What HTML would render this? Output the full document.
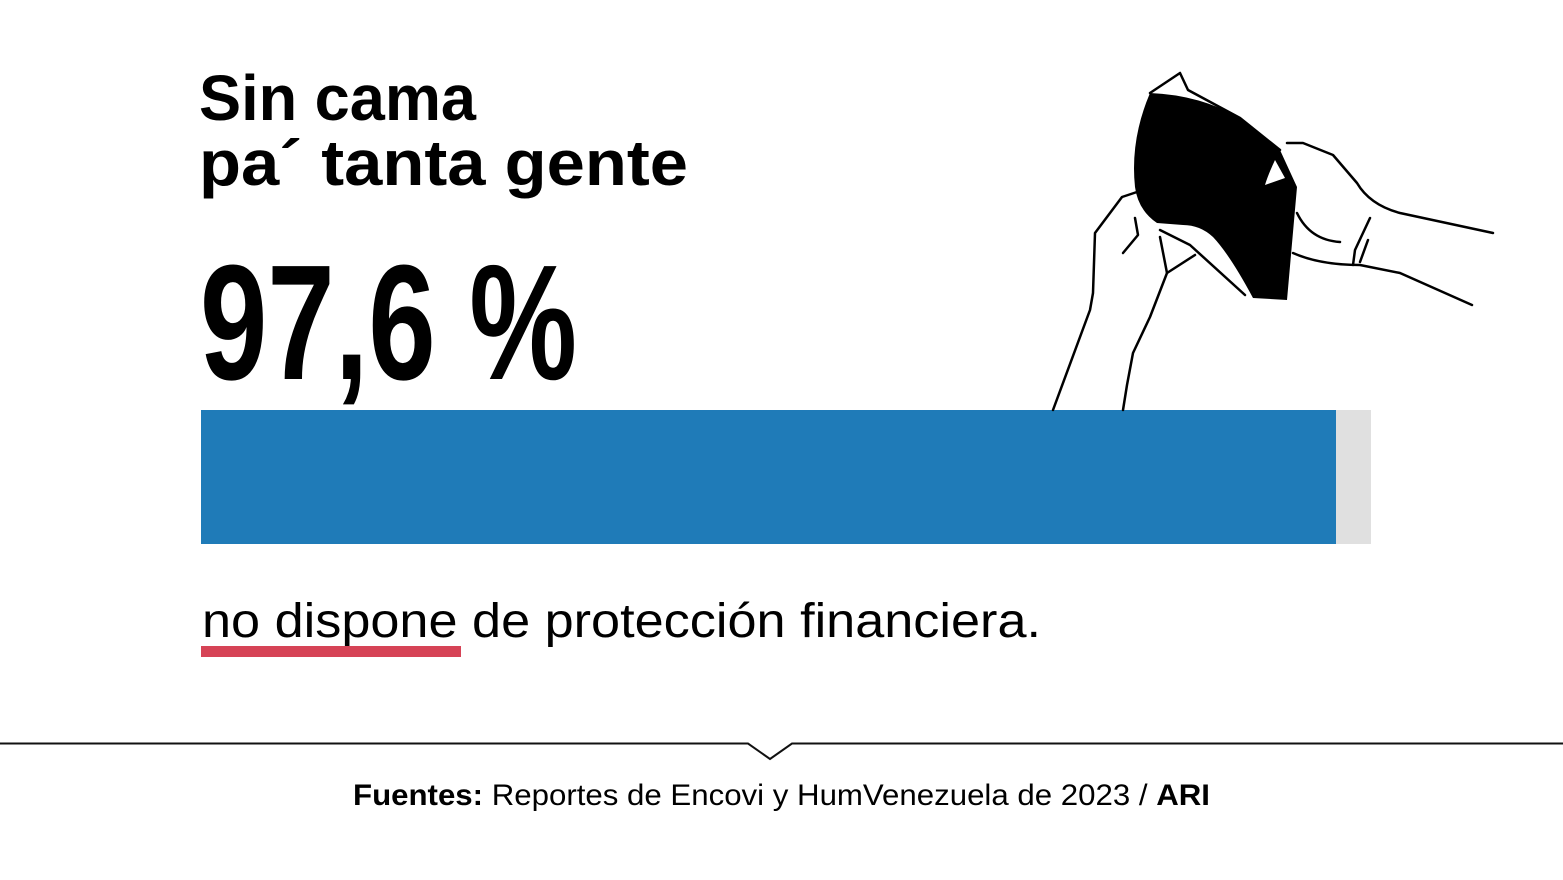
<!DOCTYPE html>
<html><head><meta charset="utf-8"><style>
html,body{margin:0;padding:0;background:#fff}
svg{display:block}
</style></head><body>
<svg width="1563" height="880" viewBox="0 0 1563 880" xmlns="http://www.w3.org/2000/svg">
<rect width="1563" height="880" fill="#fff"/>
<text x="199" y="120" font-family="Liberation Sans, sans-serif" font-weight="bold" font-size="64" textLength="277" lengthAdjust="spacingAndGlyphs">Sin cama</text>
<text x="199" y="185" font-family="Liberation Sans, sans-serif" font-weight="bold" font-size="64" textLength="489" lengthAdjust="spacingAndGlyphs">pa´ tanta gente</text>
<text x="200" y="379" font-family="Liberation Sans Narrow, Liberation Sans, sans-serif" font-weight="bold" font-size="164" textLength="377" lengthAdjust="spacingAndGlyphs">97,6 %</text>
<rect x="201" y="410" width="1135" height="134" fill="#1f7bb8"/>
<rect x="1336" y="410" width="35" height="134" fill="#e0e0e0"/>
<text x="202" y="637" font-family="Liberation Sans, sans-serif" font-size="48" textLength="839" lengthAdjust="spacingAndGlyphs">no dispone de protección financiera.</text>
<rect x="201" y="646" width="260" height="11" fill="#d64356"/>
<path d="M0 743.5 H748 L770 759 L792 743.5 H1563" fill="none" stroke="#111" stroke-width="2"/>
<text x="353" y="805" font-family="Liberation Sans, sans-serif" font-size="30" textLength="857" lengthAdjust="spacingAndGlyphs"><tspan font-weight="bold">Fuentes:</tspan> Reportes de Encovi y HumVenezuela de 2023 / <tspan font-weight="bold">ARI</tspan></text>
<g fill="none" stroke="#000" stroke-width="2.5" stroke-linecap="round" stroke-linejoin="round">
<path d="M1053 410 L1090 310 L1093 293 L1095 233 L1122 197 L1137 192"/>
<path d="M1123 410 L1127 385 L1133 353 L1150 317 L1167 273 L1160 237"/>
<path d="M1123 253 L1138 235 L1135 218"/>
<path d="M1167 273 L1195 255"/>
<path d="M1150 93 L1180 73 L1188 90 L1240 118 L1280 150"/>
<path d="M1287 143 L1303 143 L1333 155 L1357 183 Q1370 205 1400 213 L1493 233"/>
<path d="M1293 253 Q1320 265 1360 265 L1400 273 L1472 305"/>
<path d="M1297 213 Q1310 240 1340 242"/>
<path d="M1370 218 L1355 250 L1353 265 M1368 240 L1360 262"/>
<path d="M1160 230 L1190 245 L1245 295"/>
</g>
<path d="M1150 93 Q1200 95 1240 118 L1280 150 L1297 187 L1287 300 L1253 298 Q1230 255 1213 237 Q1200 225 1183 225 L1157 223 Q1138 210 1135 187 Q1130 140 1150 93 Z" fill="#000"/>
<path d="M1275 160 Q1268 175 1265 185 L1285 178 Z" fill="#fff"/>
</svg>
</body></html>
